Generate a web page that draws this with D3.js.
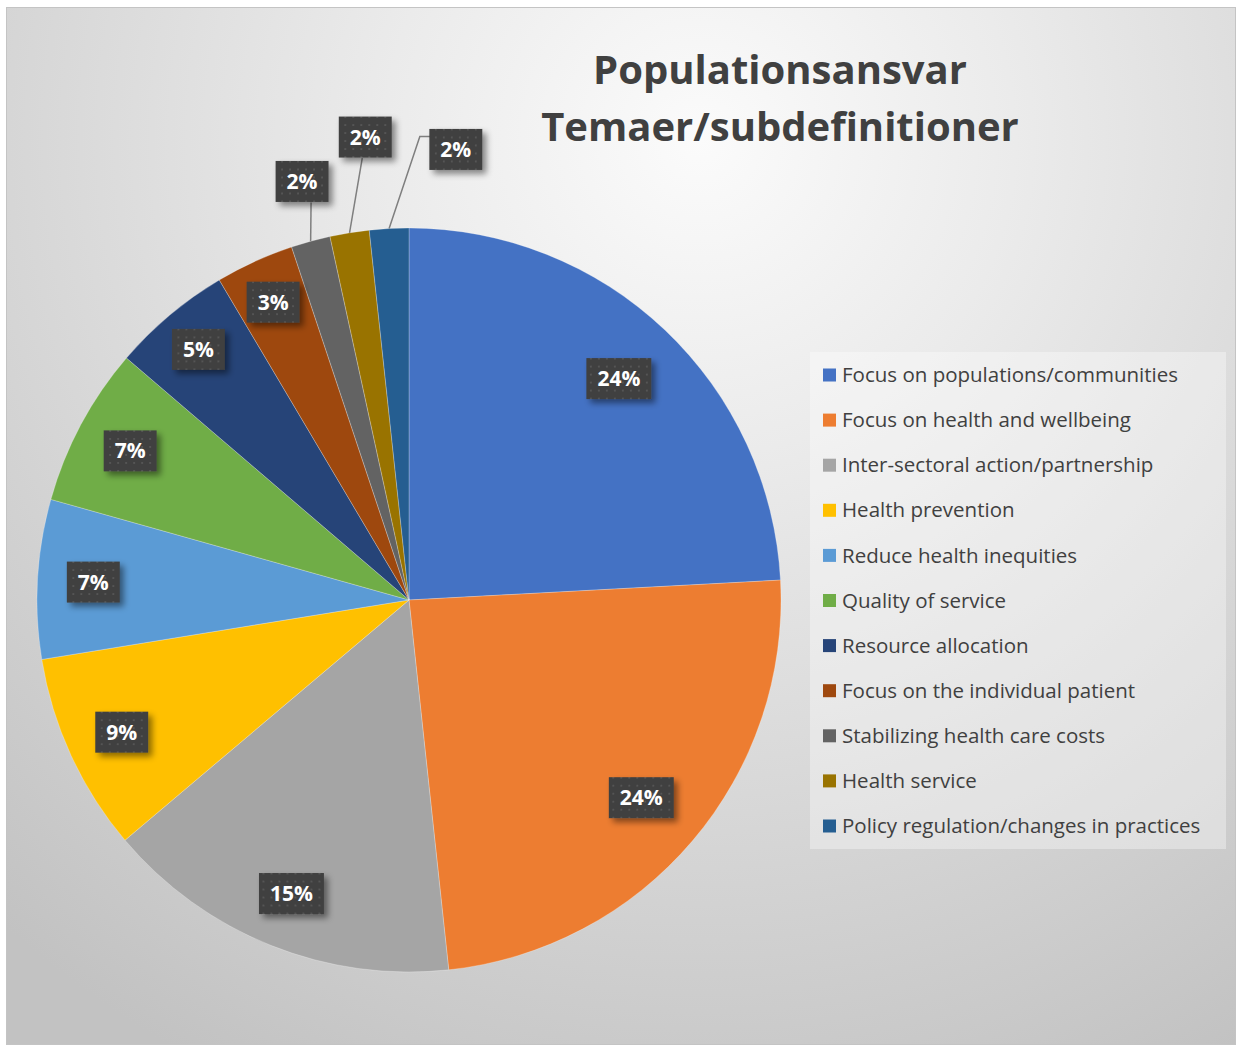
<!DOCTYPE html>
<html>
<head>
<meta charset="utf-8">
<script src="https://cdn.jsdelivr.net/npm/d3@7"></script>
<style>
  body { margin: 0; background: #fff; }
  svg text { font-family: "Open Sans", "Noto Sans", sans-serif; }
</style>
</head>
<body>
<div id="chart"></div>
<script>
// Slice shares (in %), and the labels Excel printed
let categories = [
  "Focus on populations/communities",
  "Focus on health and wellbeing",
  "Inter-sectoral action/partnership",
  "Health prevention",
  "Reduce health inequities",
  "Quality of service",
  "Resource allocation",
  "Focus on the individual patient",
  "Stabilizing health care costs",
  "Health service",
  "Policy regulation/changes in practices"
];
let shares = [24.1, 24.1, 15.5, 8.6, 6.9, 6.9, 5.2, 3.4, 1.7, 1.7, 1.7];
let shareLabels = ["24%", "24%", "15%", "9%", "7%", "7%", "5%", "3%", "2%", "2%", "2%"];
let sliceColors = ["#4472C4", "#ED7D31", "#A5A5A5", "#FFC000", "#5B9BD5", "#70AD47",
                   "#264478", "#9E480E", "#636363", "#997300", "#255E91"];
let titleLines = ["Populationsansvar", "Temaer/subdefinitioner"];

let width = 1236, height = 1045;
let cx = 409, cy = 600, radius = 372;

let svg = d3.select("#chart").append("svg")
    .attr("width", width)
    .attr("height", height);

let defs = svg.append("defs");

let bg = defs.append("radialGradient")
    .attr("id", "bgGrad")
    .attr("gradientUnits", "userSpaceOnUse")
    .attr("cx", 700).attr("cy", 140).attr("r", 1050);
bg.append("stop").attr("offset", "0").attr("stop-color", "#fbfbfb");
bg.append("stop").attr("offset", "0.3").attr("stop-color", "#ebebeb");
bg.append("stop").attr("offset", "1").attr("stop-color", "#c2c2c2");

// dotted dark fill for the data labels
let pat = defs.append("pattern")
    .attr("id", "dots")
    .attr("patternUnits", "userSpaceOnUse")
    .attr("width", 8).attr("height", 8);
pat.append("rect").attr("width", 8).attr("height", 8).attr("fill", "#3f3f3f");
pat.append("rect").attr("x", 3).attr("y", 3).attr("width", 2).attr("height", 2).attr("fill", "#545454");

let shadow = defs.append("filter").attr("id", "shadow")
    .attr("x", "-30%").attr("y", "-30%").attr("width", "170%").attr("height", "180%");
shadow.append("feDropShadow")
    .attr("dx", 4).attr("dy", 4).attr("stdDeviation", 3)
    .attr("flood-color", "#000").attr("flood-opacity", 0.45);

// chart area
svg.append("rect")
    .attr("x", 6.5).attr("y", 7.5)
    .attr("width", width - 7).attr("height", height - 8)
    .attr("fill", "url(#bgGrad)")
    .attr("stroke", "#c4c4c4");

// title
svg.append("g").selectAll("text")
    .data(titleLines)
  .enter().append("text")
    .attr("x", 780)
    .attr("y", function(d, i){ return 84 + i * 57; })
    .attr("text-anchor", "middle")
    .style("font-size", "40px")
    .style("font-weight", "bold")
    .style("fill", "#404040")
    .text(function(d){ return d; });

// pie
let pie = d3.pie().sort(null).value(function(d){ return d; });
let arcs = pie(shares);
let arc = d3.arc().innerRadius(0).outerRadius(radius);

let gPie = svg.append("g").attr("transform", "translate(" + cx + "," + cy + ")");

gPie.selectAll("path")
    .data(arcs)
  .enter().append("path")
    .attr("d", arc)
    .style("fill", function(d, i){ return sliceColors[i]; })
    .style("stroke", "rgba(255,255,255,0.25)")
    .style("stroke-width", 1);

// label placement: inside for big slices, pulled out with leader lines for the tiny ones
let outsideNudge = { 8: [1.0, 60], 9: [3.8, 93], 10: [9.0, 81] };
function polar(angle, r){ return [Math.sin(angle) * r, -Math.cos(angle) * r]; }

let labels = arcs.map(function(d, i){
  let mid = (d.startAngle + d.endAngle) / 2;
  let nudge = outsideNudge[i];
  if(nudge){
    let p = polar(mid + nudge[0] * Math.PI / 180, radius + nudge[1]);
    return { i: i, x: p[0], y: p[1], outside: true, anchor: polar(mid, radius) };
  }
  // narrower slices get their label pushed a bit further out, like Excel does
  let f = d.value > 20 ? 0.82 : (d.value > 6 ? 0.85 : 0.88);
  let p = polar(mid, radius * f);
  return { i: i, x: p[0], y: p[1], outside: false };
});

let gLab = gPie.append("g");

// leader lines
labels.filter(function(d){ return d.outside; }).forEach(function(d){
  let boxBottom = d.y + 21;
  let pts;
  if(d.i === 10){
    pts = [d.anchor, [d.x - 36, d.y - 13], [d.x - 24, d.y - 13]];
  } else {
    pts = [d.anchor, [d.x + 9 - (d.i === 9 ? 12 : 0), boxBottom]];
  }
  gLab.append("path")
    .attr("d", d3.line()(pts))
    .style("fill", "none")
    .style("stroke", "#7f7f7f")
    .style("stroke-width", 1.5);
});

let labelG = gLab.selectAll("g.lbl")
    .data(labels)
  .enter().append("g")
    .attr("class", "lbl")
    .attr("transform", function(d){ return "translate(" + d.x + "," + d.y + ")"; });

labelG.append("rect").attr("class", "box");
labelG.append("text")
    .attr("text-anchor", "middle")
    .attr("dy", "0.36em")
    .style("font-size", "21px")
    .style("font-weight", "bold")
    .style("fill", "#fff")
    .text(function(d){ return shareLabels[d.i]; });

labelG.each(function(){
  let g = d3.select(this);
  let w = g.select("text").node().getComputedTextLength();
  g.select("rect")
    .attr("x", -w / 2 - 11).attr("y", -20.5)
    .attr("width", w + 22).attr("height", 41)
    .attr("fill", "url(#dots)")
    .attr("filter", "url(#shadow)");
});

// legend
let legendX = 810, legendY = 352, rowH = 45.1;
svg.append("rect")
    .attr("x", legendX).attr("y", legendY)
    .attr("width", 416).attr("height", 497)
    .attr("fill", "rgba(255,255,255,0.35)");

let legend = svg.append("g").selectAll("g")
    .data(categories)
  .enter().append("g")
    .attr("transform", function(d, i){ return "translate(" + (legendX + 13) + "," + (legendY + 23 + i * rowH) + ")"; });

legend.append("rect")
    .attr("x", 0).attr("y", -6.5)
    .attr("width", 13).attr("height", 13)
    .style("fill", function(d, i){ return sliceColors[i]; });

legend.append("text")
    .attr("x", 19)
    .attr("dy", "0.35em")
    .style("font-size", "20.5px")
    .style("fill", "#404040")
    .text(function(d){ return d; });
</script>
</body>
</html>
